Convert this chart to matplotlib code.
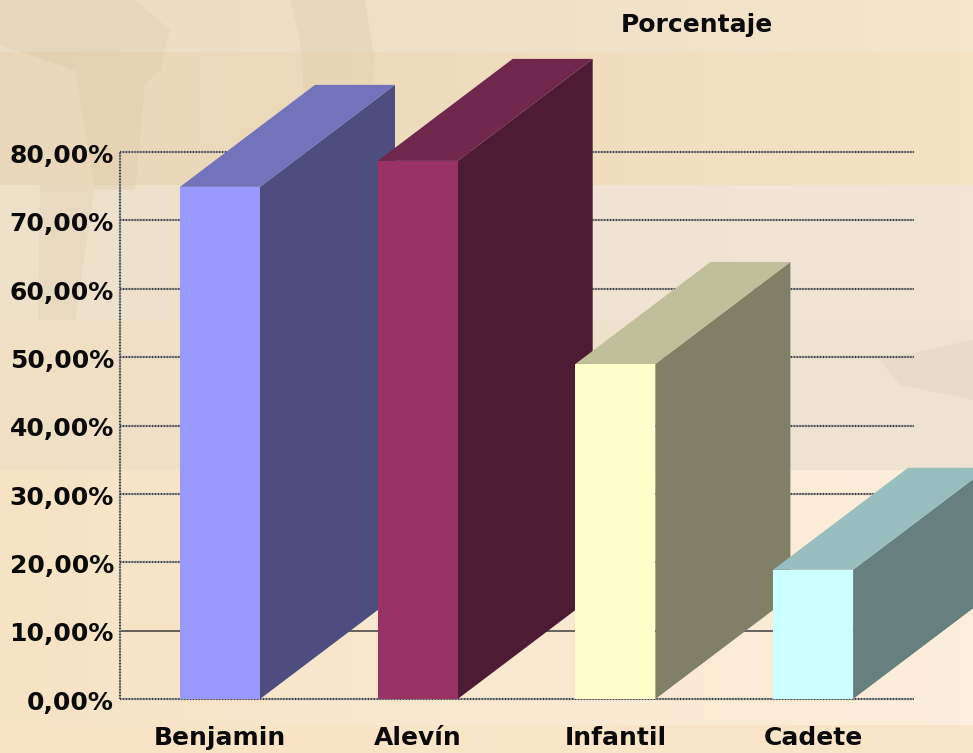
"""
Porcentaje por categoria - barras 3D falsas sobre fondo claro
"""
import numpy as np
import matplotlib
matplotlib.use('Agg')
import matplotlib.pyplot as plt
from matplotlib.patches import Polygon

categories = ['Benjamin', 'Alevín', 'Infantil', 'Cadete']
values = [74.9, 78.7, 49.0, 18.9]
tick_values = [0, 10, 20, 30, 40, 50, 60, 70, 80]
tick_labels = ['0,00%', '10,00%', '20,00%', '30,00%', '40,00%',
               '50,00%', '60,00%', '70,00%', '80,00%']
front_colors = ['#9999FF', '#993366', '#FFFFCC', '#CCFFFF']
top_colors = ['#7373BC', '#6F274C', '#BFBF99', '#99BEBE']
side_colors = ['#4D4D7F', '#4D1B33', '#808066', '#668080']
title = 'Porcentaje'

W, H = 973, 753
px_x = 197.7    # pixeles por categoria
px_y = 6.8375   # pixeles por punto porcentual
x0 = 220        # pixel de la primera categoria
y0 = 699        # pixel del 0%

plt.rcParams['font.family'] = ['DejaVu Sans']

fig = plt.figure(figsize=(W / 100, H / 100), dpi=100)

# fondo: bandas con gradiente suave, en pixeles
bg = fig.add_axes([0, 0, 1, 1], zorder=0)
bands = [
    (0, 52, '#EADDC3', '#F4E5CB'),
    (52, 185, '#E8D7B8', '#F5E2C2'),
    (185, 320, '#EDE1CA', '#F1E6D6'),
    (320, 470, '#F0DFC3', '#EEE3D3'),
    (470, 725, '#F6E3C4', '#FCEEDC'),
    (725, 753, '#F8E4C4', '#F9E6C9'),
]
for top, bottom, c0, c1 in bands:
    cmap = matplotlib.colors.LinearSegmentedColormap.from_list('b', [c0, c1])
    bg.imshow(np.linspace(0, 1, 64)[None, :], cmap=cmap, aspect='auto',
              extent=(0, W, bottom, top), zorder=1)
bg.set_xlim(0, W)
bg.set_ylim(H, 0)
bg.axis('off')
# siluetas del fondo
shadows = [
    [(0, 0), (135, 0), (170, 30), (160, 70), (145, 85), (135, 190), (95, 190),
     (75, 70), (0, 45)],
    [(290, 0), (365, 0), (375, 60), (370, 110), (305, 110), (300, 40)],
    [(40, 185), (95, 185), (75, 320), (38, 320)],
    [(880, 360), (973, 340), (973, 400), (900, 385)],
]
for pts in shadows:
    bg.add_patch(Polygon(pts, closed=True, fc='#C9B48F', ec='none', alpha=0.14, zorder=2))

# grafico: x por categoria, y en porcentaje
ax = fig.add_axes([0, 0, 1, 1], zorder=1)
ax.patch.set_alpha(0)
ax.set_xlim(-x0 / px_x, (W - x0) / px_x)
ax.set_ylim((y0 - H) / px_y, y0 / px_y)
ax.axis('off')

bar_w = 80 / px_x
depth_x = 135 / px_x
depth_y = 102 / px_y
x_left = (120 - x0) / px_x
x_right = (914 - x0) / px_x


def dotted(xs, ys):
    ax.plot(xs, ys, color='#A0A0A0', lw=1.5, zorder=2, solid_capstyle='butt')
    ax.plot(xs, ys, color='#3A3A3A', lw=1.5, ls=(0, (0.5, 0.9)), zorder=2.1)


for t in tick_values:
    if t == 10:
        ax.plot([x_left, x_right], [t, t], color='#3C3C3C', lw=1.1, zorder=2)
    else:
        dotted([x_left, x_right], [t, t])
dotted([x_left, x_left], [0, 80])

for i, v in enumerate(values):
    l = i - bar_w / 2
    r = i + bar_w / 2
    z = 3 + i
    # cara lateral
    ax.add_patch(Polygon([(r, 0), (r + depth_x, depth_y), (r + depth_x, v + depth_y), (r, v)],
                         closed=True, fc=side_colors[i], ec='none', zorder=z))
    # cara superior
    ax.add_patch(Polygon([(l, v), (l + depth_x, v + depth_y), (r + depth_x, v + depth_y), (r, v)],
                         closed=True, fc=top_colors[i], ec='none', zorder=z))
    ax.bar(i, v, width=bar_w, color=front_colors[i], zorder=z + 0.5)

for t, lab in zip(tick_values, tick_labels):
    ax.text(x_left - 6 / px_x, t - 0.55, lab, ha='right', va='center', fontsize=18,
            fontweight='bold', color='#0A0A0A', zorder=10)
for i, c in enumerate(categories):
    ax.text(i, -5.7, c, ha='center', va='center', fontsize=18,
            fontweight='bold', color='#0A0A0A', zorder=10)

ax.text(697 / W, 1 - 25 / H, title, transform=ax.transAxes, ha='center', va='center',
        fontsize=18, fontweight='bold', color='#0A0A0A', zorder=10)

fig.savefig('out.png', dpi=100)
